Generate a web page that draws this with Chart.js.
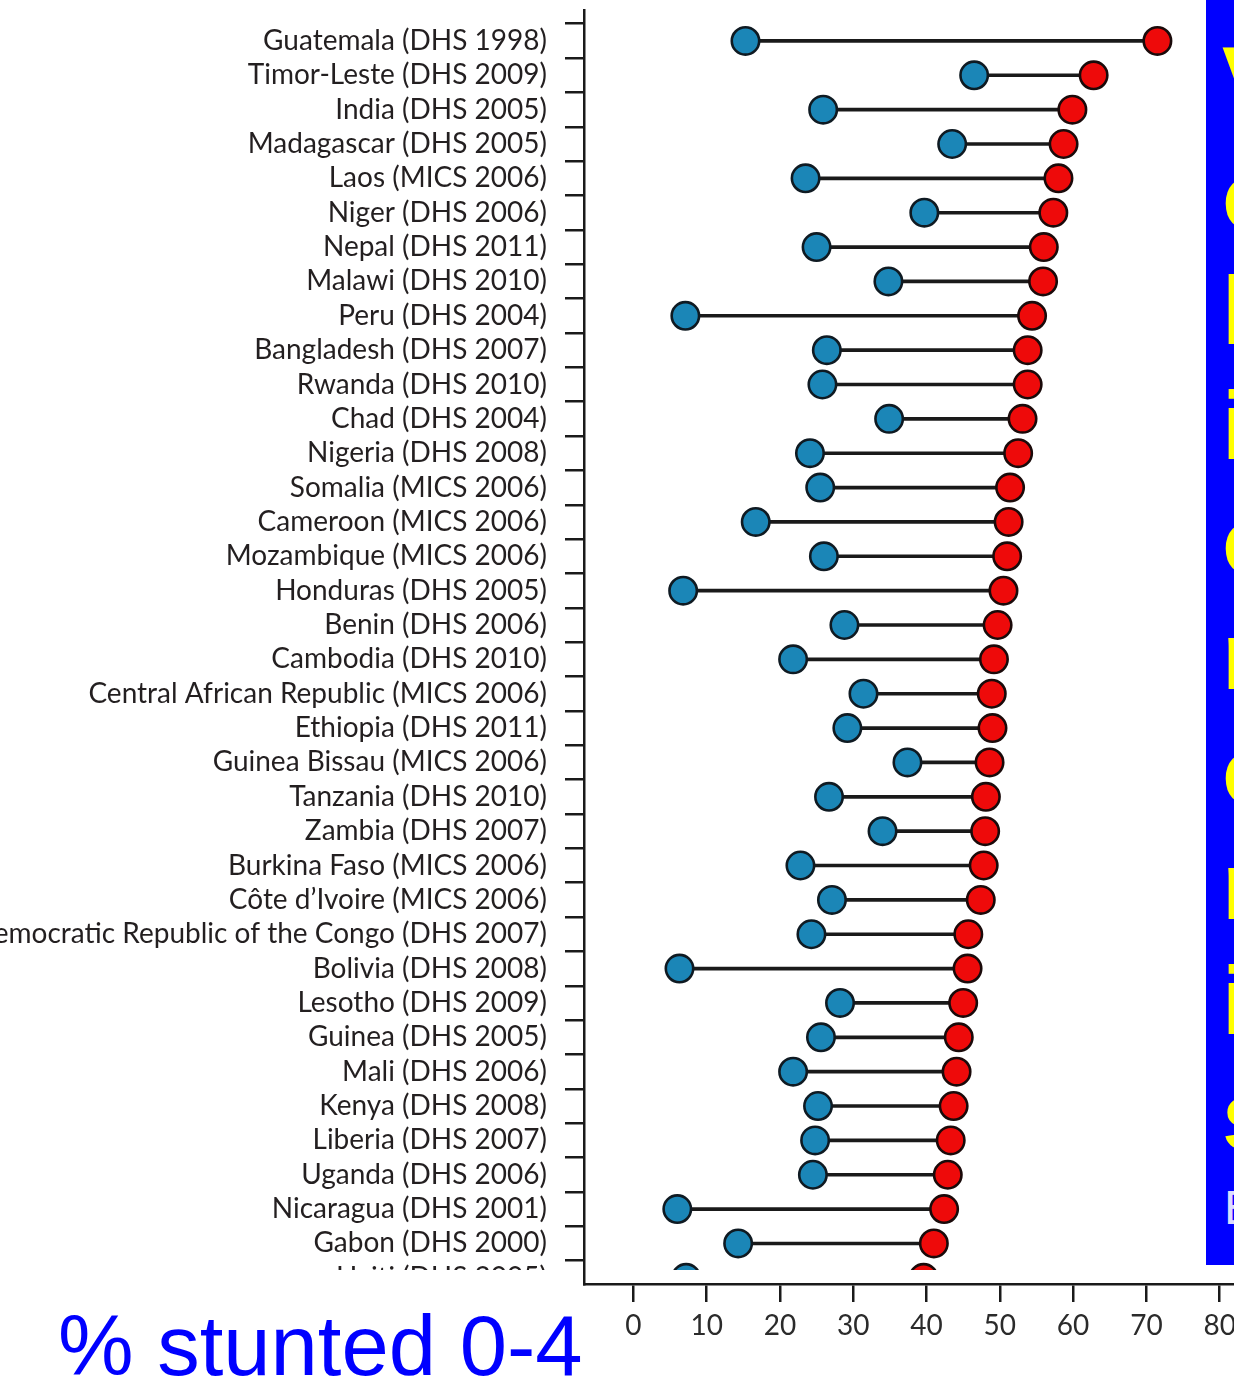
<!DOCTYPE html>
<html>
<head>
<meta charset="utf-8">
<script src="https://cdn.jsdelivr.net/npm/chart.js@4.4.1/dist/chart.umd.min.js"></script>
<style>
  html, body { margin: 0; padding: 0; background: #fff; overflow: hidden; width: 1234px; height: 1380px; }
  #wrap { position: absolute; left: 0; top: 0; width: 1234px; height: 1380px; }
  #caption { position: absolute; left: 58px; top: 1303px; font: 85px "Liberation Sans", Arial, sans-serif; line-height: 85px; color: #0000ff; white-space: nowrap; }
  #box { position: absolute; left: 1206px; top: 0; width: 400px; height: 1265px; background: #0000ff; color: #ffff00;
         font: bold 96px "Liberation Sans", Arial, sans-serif; line-height: 115px; padding: 23px 0 0 16px; box-sizing: border-box; white-space: pre; }
  #boxTail { position: absolute; left: 1224px; top: 1184px; font: 48px "Liberation Sans", Arial, sans-serif; line-height: 48px; color: #dcdcff; }
</style>
</head>
<body>
<div id="wrap"><canvas id="chart"></canvas></div>
<div id="caption">% stunted 0-4</div>
<div id="box">V
o
l
i
o
n
o
n
i
s</div>
<div id="boxTail">E</div>
<script>
// Survey rows, top to bottom
const countries = [
    'Guatemala (DHS 1998)', 'Timor-Leste (DHS 2009)', 'India (DHS 2005)', 'Madagascar (DHS 2005)',
    'Laos (MICS 2006)', 'Niger (DHS 2006)', 'Nepal (DHS 2011)', 'Malawi (DHS 2010)', 'Peru (DHS 2004)',
    'Bangladesh (DHS 2007)', 'Rwanda (DHS 2010)', 'Chad (DHS 2004)', 'Nigeria (DHS 2008)',
    'Somalia (MICS 2006)', 'Cameroon (MICS 2006)', 'Mozambique (MICS 2006)', 'Honduras (DHS 2005)',
    'Benin (DHS 2006)', 'Cambodia (DHS 2010)', 'Central African Republic (MICS 2006)', 'Ethiopia (DHS 2011)',
    'Guinea Bissau (MICS 2006)', 'Tanzania (DHS 2010)', 'Zambia (DHS 2007)', 'Burkina Faso (MICS 2006)',
    'Côte d’Ivoire (MICS 2006)', 'Democratic Republic of the Congo (DHS 2007)', 'Bolivia (DHS 2008)',
    'Lesotho (DHS 2009)', 'Guinea (DHS 2005)', 'Mali (DHS 2006)', 'Kenya (DHS 2008)', 'Liberia (DHS 2007)',
    'Uganda (DHS 2006)', 'Nicaragua (DHS 2001)', 'Gabon (DHS 2000)', 'Haiti (DHS 2005)'
];

// Blue dots (low end of each row)
const lowEnd = [
    15.3, 46.5, 25.9, 43.5, 23.5, 39.7, 25.0, 34.8, 7.1, 26.4, 25.8, 34.9, 24.1,
    25.5, 16.7, 26.0, 6.8, 28.8, 21.8, 31.4, 29.2, 37.4, 26.7, 34.0, 22.8,
    27.1, 24.3, 6.3, 28.2, 25.6, 21.8, 25.2, 24.8, 24.5, 6.0, 14.3, 7.2
];

// Red dots (high end of each row)
const highEnd = [
    71.5, 62.8, 59.9, 58.7, 58.0, 57.3, 56.0, 55.9, 54.4, 53.8, 53.8, 53.1, 52.5,
    51.4, 51.2, 51.0, 50.5, 49.7, 49.2, 48.9, 49.0, 48.6, 48.1, 48.0, 47.8,
    47.4, 45.7, 45.6, 45.0, 44.4, 44.1, 43.7, 43.3, 42.9, 42.4, 41.0, 39.6
];

const xTicks = [0, 10, 20, 30, 40, 50, 60, 70, 80];

const rowIndex = countries.map((c, i) => i);
const ink = '#1a1a1a';
// last row is cut off just above the x axis
const clipRows = { left: 40, top: 40, right: 40, bottom: -14 };

// white strip over the cut-off bottom label
const cutLastLabel = {
    id: 'cutLastLabel',
    afterDraw(chart) {
        const y = chart.scales.y;
        const ctx = chart.ctx;
        ctx.save();
        ctx.fillStyle = '#fff';
        ctx.fillRect(0, y.bottom - 14, y.right - 22, 40);
        ctx.restore();
    }
};

function drawChart() {
    new Chart(document.getElementById('chart'), {
        type: 'bar',
        data: {
            datasets: [
                {
                    type: 'bar',
                    data: rowIndex.map(i => ({ y: i, x: [lowEnd[i], highEnd[i]] })),
                    backgroundColor: ink,
                    borderWidth: 0,
                    barThickness: 3,
                    order: 3,
                    clip: clipRows
                },
                {
                    type: 'scatter',
                    data: rowIndex.map(i => ({ x: lowEnd[i], y: i })),
                    pointRadius: 13.7,
                    pointHoverRadius: 13.7,
                    pointBorderWidth: 2.6,
                    pointBackgroundColor: '#1b86b7',
                    pointBorderColor: '#0f1a22',
                    order: 2,
                    clip: clipRows
                },
                {
                    type: 'scatter',
                    data: rowIndex.map(i => ({ x: highEnd[i], y: i })),
                    pointRadius: 13.7,
                    pointHoverRadius: 13.7,
                    pointBorderWidth: 2.6,
                    pointBackgroundColor: '#ee0a0a',
                    pointBorderColor: '#1a0a0a',
                    order: 1,
                    clip: clipRows
                }
            ]
        },
        options: {
            indexAxis: 'y',
            responsive: true,
            maintainAspectRatio: false,
            animation: false,
            layout: { autoPadding: false, padding: { top: 10, left: 0, right: 0, bottom: 0 } },
            plugins: {
                legend: { display: false },
                tooltip: { enabled: false }
            },
            scales: {
                x: {
                    type: 'linear',
                    min: -6.73,
                    max: 81.95,
                    afterBuildTicks: s => { s.ticks = xTicks.map(v => ({ value: v })); },
                    afterFit: s => { s.height = 96; s.paddingLeft = 0; s.paddingRight = 0; },
                    grid: { drawOnChartArea: false, tickLength: 18, lineWidth: 2.5, color: ink },
                    border: { color: ink, width: 2.5 },
                    ticks: { font: { family: 'Lato', size: 28 }, color: '#2b2b2b', padding: 7 }
                },
                y: {
                    type: 'linear',
                    reverse: true,
                    offset: false,
                    min: -0.9,
                    max: 36.18,
                    afterBuildTicks: s => { s.ticks = rowIndex.map(i => ({ value: i })); },
                    afterFit: s => { s.width = 584; s.paddingTop = 0; s.paddingBottom = 0; },
                    grid: { offset: true, drawOnChartArea: false, tickLength: 19, lineWidth: 2.5, color: ink },
                    border: { color: ink, width: 2.5 },
                    ticks: {
                        autoSkip: false,
                        padding: 18,
                        font: { family: 'Lato', size: 28 },
                        color: '#231f20',
                        callback: v => countries[v]
                    }
                }
            }
        },
        plugins: [cutLastLabel]
    });
}

document.fonts.load('28px Lato').then(drawChart, drawChart);
</script>
</body>
</html>
